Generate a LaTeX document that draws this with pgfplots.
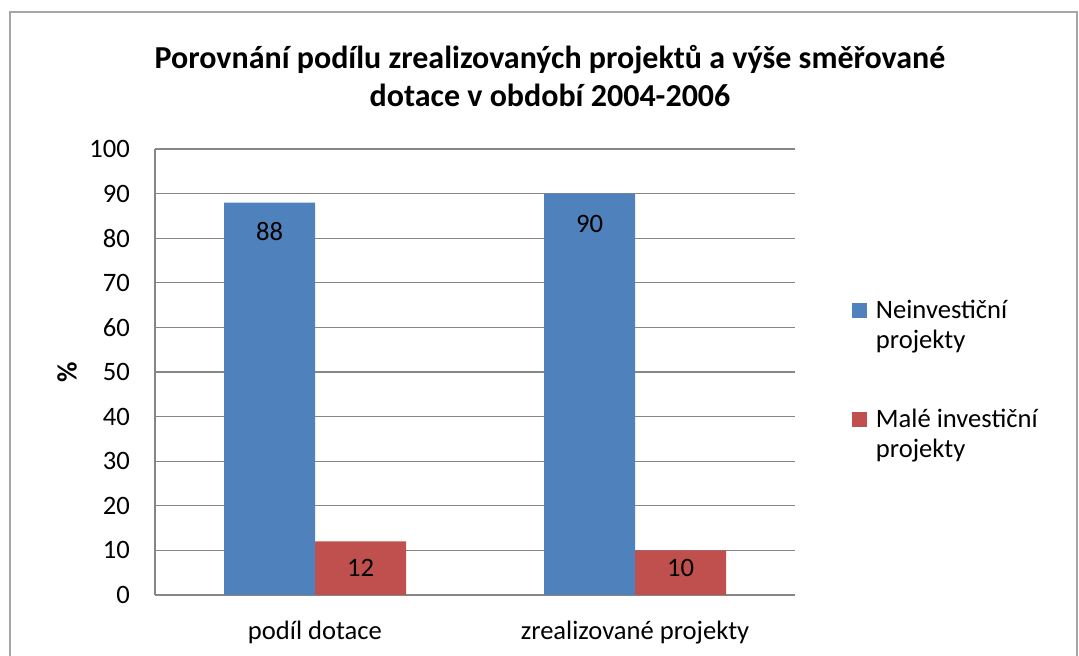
\documentclass[border=0pt]{standalone}
\usepackage{fontspec}
\setmainfont{Carlito}
\usepackage{pgfplots}
\usepackage{pgfplotstable}
\pgfplotsset{compat=1.18}

\definecolor{barblue}{HTML}{4F81BD}
\definecolor{barred}{HTML}{C0504D}
\definecolor{gridgray}{HTML}{868686}

% x = category, y = value, ly = where the value label sits
\pgfplotstableread{
x y ly
0 88 81.4
1 90 83.2
}\neinv
\pgfplotstableread{
x y ly
0 12 6.0
1 10 6.0
}\male

\begin{document}
\begin{tikzpicture}[font=\fontsize{13.3}{15}\selectfont]
\useasboundingbox (0,0) rectangle (539.5pt,328pt);
\draw[gray!70, line width=0.8pt] (5pt,0) -- (5pt,322pt) -- (538.5pt,322pt) -- (538.5pt,0);

\node[font=\bfseries\fontsize{16}{19}\selectfont, align=center] at (275pt,290pt)
  {Porovnání podílu zrealizovaných projektů a výše směřované\\dotace v období 2004-2006};
\node[font=\bfseries\fontsize{14}{16}\selectfont, rotate=90] at (33.5pt,142pt) {\%};

\begin{axis}[
    at={(77.5pt,30.5pt)}, anchor=south west,
    scale only axis,
    width=320pt, height=223pt,
    xmin=-0.5, xmax=1.5,
    ymin=0, ymax=100,
    xtick={0,1},
    xticklabels={podíl dotace, zrealizované projekty},
    ytick={0,10,...,100},
    tick style={draw=none},
    /pgf/number format/assume math mode=true,
    yticklabel style={xshift=-9pt},
    xticklabel style={yshift=-9.5pt},
    ymajorgrids,
    grid style={gridgray, line width=0.6pt},
    axis x line*=bottom,
    axis y line*=left,
    axis line style={gridgray, line width=0.6pt, -},
    legend style={at={(1.079,0.68)}, anchor=north west, draw=none, fill=none,
        row sep=25pt, cells={align=left}},
    legend cell align=left,
]
\addplot[ybar, bar width=45.5pt, bar shift=-22.75pt, fill=barblue, draw=none,
    legend image code/.code={\fill[barblue] (0pt,4pt) rectangle (7.5pt,11.5pt);
        \path (10pt,4pt);}]
    table[x=x, y=y] {\neinv};
\addlegendentry{Neinvestiční\\projekty}
\addplot[ybar, bar width=45.5pt, bar shift=22.75pt, fill=barred, draw=none,
    legend image code/.code={\fill[barred] (0pt,4pt) rectangle (7.5pt,11.5pt);
        \path (10pt,4pt);}]
    table[x=x, y=y] {\male};
\addlegendentry{Malé investiční\\projekty}

% value labels
\addplot[draw=none, mark=none, forget plot, nodes near coords,
    point meta=explicit,
    every node near coord/.append style={anchor=center, xshift=-22.75pt,
        /pgf/number format/assume math mode=true}]
    table[x=x, y=ly, meta=y] {\neinv};
\addplot[draw=none, mark=none, forget plot, nodes near coords,
    point meta=explicit,
    every node near coord/.append style={anchor=center, xshift=22.75pt,
        /pgf/number format/assume math mode=true}]
    table[x=x, y=ly, meta=y] {\male};
\end{axis}
\end{tikzpicture}
\end{document}
